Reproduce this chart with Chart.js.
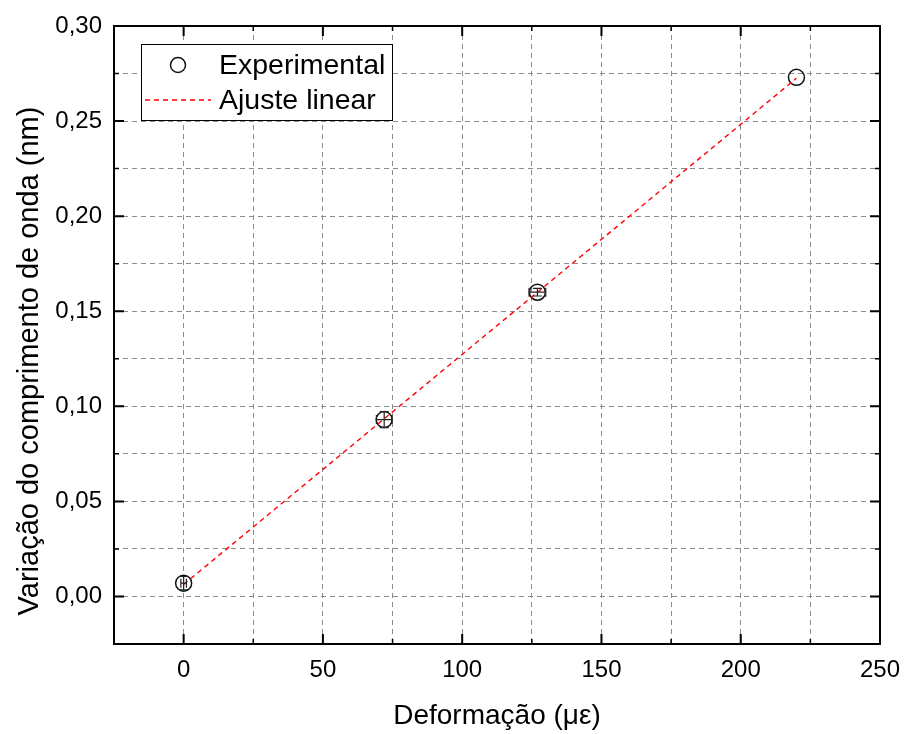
<!DOCTYPE html>
<html>
<head>
<meta charset="utf-8">
<script src="https://cdn.jsdelivr.net/npm/chart.js@4/dist/chart.umd.min.js"></script>
<style>
  html, body { margin: 0; padding: 0; background: #fff; }
  #wrap { width: 904px; height: 734px; }
</style>
</head>
<body>
<div id="wrap"><canvas id="chart" width="904" height="734"></canvas></div>
<script>
// data
const strain = [0, 72, 127, 220];           // µε
const shift = [0.007, 0.093, 0.160, 0.273];  // nm
const strainErr = [1, 2.8, 3, 0];
const shiftErr = [0.0035, 0.0042, 0.002, 0];

// linear fit endpoints
const fitX = [0, 220];
const fitY = [0.0063, 0.2725];

const xTickStep = 25;
const yTickStep = 0.025;

const FONT = "'Liberation Sans', Arial, sans-serif";
const Y_TITLE = 'Variação do comprimento de onda (nm)';

function isMajor(v, step) {
    return Math.abs(Math.round(v / step) * step - v) < 1e-9;
}

// frame + inward ticks on all four sides
const framePlugin = {
    id: 'frame',
    afterDraw(chart) {
        const { ctx, chartArea: a, scales } = chart;
        ctx.save();
        ctx.strokeStyle = '#000';
        ctx.lineWidth = 2;
        ctx.strokeRect(a.left, a.top, a.right - a.left, a.bottom - a.top);

        scales.x.ticks.forEach(t => {
            const px = scales.x.getPixelForValue(t.value);
            const major = isMajor(t.value, 50);
            const len = major ? 10 : 5;
            ctx.lineWidth = major ? 2 : 1.5;
            ctx.beginPath();
            ctx.moveTo(px, a.bottom); ctx.lineTo(px, a.bottom - len);
            ctx.moveTo(px, a.top); ctx.lineTo(px, a.top + len);
            ctx.stroke();
        });
        scales.y.ticks.forEach(t => {
            const py = scales.y.getPixelForValue(t.value);
            const major = isMajor(t.value, 0.05);
            const len = major ? 10 : 5;
            ctx.lineWidth = major ? 2 : 1.5;
            ctx.beginPath();
            ctx.moveTo(a.left, py); ctx.lineTo(a.left + len, py);
            ctx.moveTo(a.right, py); ctx.lineTo(a.right - len, py);
            ctx.stroke();
        });

        // y axis title, centred a bit below the plot centre like the original
        ctx.translate(30, 361);
        ctx.rotate(-Math.PI / 2);
        ctx.fillStyle = '#000';
        ctx.font = '29px ' + FONT;
        ctx.textAlign = 'center';
        ctx.textBaseline = 'middle';
        ctx.fillText(Y_TITLE, 0, 0);
        ctx.restore();
    }
};

// x and y error bars
const errorBarPlugin = {
    id: 'errorBars',
    afterDatasetsDraw(chart) {
        const { ctx, scales } = chart;
        const cap = 4.5;
        ctx.save();
        ctx.strokeStyle = '#222';
        ctx.lineWidth = 1.2;
        strain.forEach((x, i) => {
            const px = scales.x.getPixelForValue(x);
            const py = scales.y.getPixelForValue(shift[i]);
            ctx.beginPath();
            if (shiftErr[i] > 0) {
                const y1 = scales.y.getPixelForValue(shift[i] + shiftErr[i]);
                const y2 = scales.y.getPixelForValue(shift[i] - shiftErr[i]);
                ctx.moveTo(px, y1); ctx.lineTo(px, y2);
                ctx.moveTo(px - cap, y1); ctx.lineTo(px + cap, y1);
                ctx.moveTo(px - cap, y2); ctx.lineTo(px + cap, y2);
            }
            if (strainErr[i] > 0) {
                const x1 = scales.x.getPixelForValue(x - strainErr[i]);
                const x2 = scales.x.getPixelForValue(x + strainErr[i]);
                ctx.moveTo(x1, py); ctx.lineTo(x2, py);
                ctx.moveTo(x1, py - cap); ctx.lineTo(x1, py + cap);
                ctx.moveTo(x2, py - cap); ctx.lineTo(x2, py + cap);
            }
            ctx.stroke();
        });
        ctx.restore();
    }
};

// boxed legend in the upper left corner
const legendBoxPlugin = {
    id: 'legendBox',
    afterDraw(chart) {
        const { ctx, chartArea: a } = chart;
        const bx = a.left + 27, by = a.top + 18, bw = 251, bh = 76;
        ctx.save();
        ctx.fillStyle = '#fff';
        ctx.fillRect(bx, by, bw, bh);
        ctx.strokeStyle = '#000';
        ctx.lineWidth = 1;
        ctx.strokeRect(bx + 0.5, by + 0.5, bw, bh);

        ctx.strokeStyle = '#111';
        ctx.lineWidth = 1.5;
        ctx.beginPath();
        ctx.arc(bx + 37, by + 21, 7.5, 0, Math.PI * 2);
        ctx.stroke();

        ctx.strokeStyle = '#ff0000';
        ctx.lineWidth = 1.4;
        ctx.setLineDash([5, 4]);
        ctx.beginPath();
        ctx.moveTo(bx + 4, by + 56);
        ctx.lineTo(bx + 70, by + 56);
        ctx.stroke();
        ctx.setLineDash([]);

        ctx.fillStyle = '#000';
        ctx.font = '28.5px ' + FONT;
        ctx.textBaseline = 'middle';
        ctx.fillText('Experimental', bx + 78, by + 22);
        ctx.fillText('Ajuste linear', bx + 78, by + 57);
        ctx.restore();
    }
};

new Chart(document.getElementById('chart'), {
    type: 'scatter',
    data: {
        datasets: [
            {
                type: 'line',
                label: 'Ajuste linear',
                data: fitX.map((x, i) => ({ x: x, y: fitY[i] })),
                borderColor: '#ff0000',
                borderWidth: 1.4,
                borderDash: [5, 4],
                pointRadius: 0,
                fill: false
            },
            {
                label: 'Experimental',
                data: strain.map((x, i) => ({ x: x, y: shift[i] })),
                pointRadius: 8,
                pointBorderWidth: 1.5,
                pointBorderColor: '#111',
                pointBackgroundColor: 'rgba(0,0,0,0)',
                showLine: false
            }
        ]
    },
    options: {
        responsive: false,
        animation: false,
        layout: { padding: { top: 26, right: 24, left: 0, bottom: 0 } },
        plugins: { legend: { display: false }, tooltip: { enabled: false } },
        scales: {
            x: {
                type: 'linear',
                min: -25,
                max: 250,
                afterFit: s => { s.height = 90; s.paddingRight = 0; s.paddingLeft = 0; },
                ticks: {
                    stepSize: xTickStep,
                    autoSkip: false,
                    maxRotation: 0,
                    padding: 12,
                    color: '#000',
                    font: { family: FONT, size: 24 },
                    callback: v => isMajor(v, 50) ? String(v) : ''
                },
                grid: { color: '#8c8c8c', lineWidth: 1, drawTicks: false },
                border: { display: false, dash: [5, 4] },
                title: {
                    display: true,
                    text: 'Deformação (με)',
                    color: '#000',
                    font: { family: FONT, size: 28 },
                    padding: { top: 0, bottom: 1 }
                }
            },
            y: {
                type: 'linear',
                min: -0.025,
                max: 0.30,
                afterFit: s => { s.width = 114; s.paddingTop = 0; s.paddingBottom = 0; },
                ticks: {
                    stepSize: yTickStep,
                    autoSkip: false,
                    padding: 12,
                    color: '#000',
                    font: { family: FONT, size: 24 },
                    callback: v => isMajor(v, 0.05) ? v.toFixed(2).replace('.', ',') : ''
                },
                grid: { color: '#8c8c8c', lineWidth: 1, drawTicks: false },
                border: { display: false, dash: [5, 4] },
                title: { display: false }
            }
        }
    },
    plugins: [errorBarPlugin, framePlugin, legendBoxPlugin]
});
</script>
</body>
</html>
